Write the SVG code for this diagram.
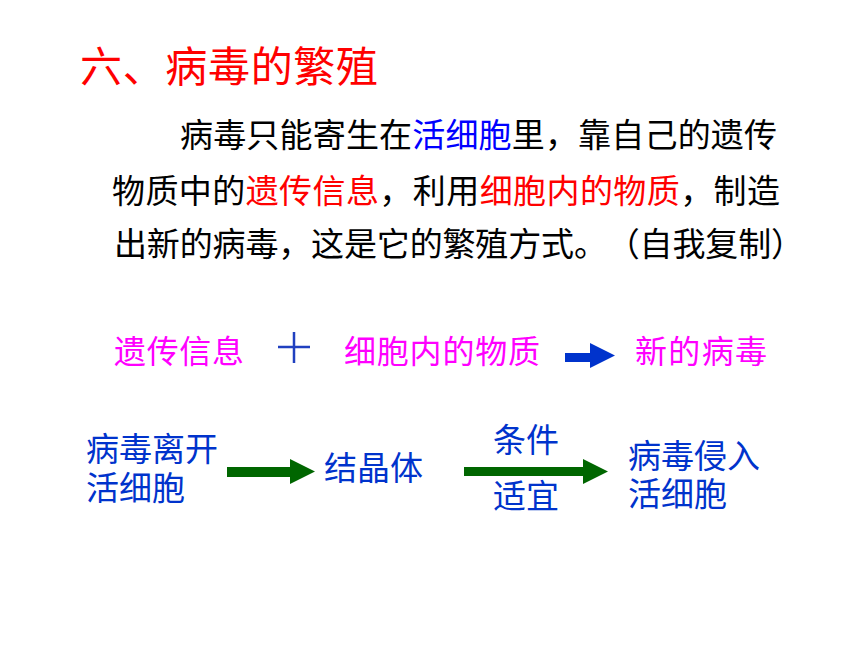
<svg xmlns="http://www.w3.org/2000/svg" width="860" height="645" viewBox="0 0 860 645">
  <style>
    text { font-family: "Noto Sans CJK SC", "Noto Sans", sans-serif; text-spacing-trim: space-all; }
    .title { font-size: 42px; fill: #ff0000; }
    .body { font-size: 33px; fill: #000000; }
    .blue { fill: #0000ff; }
    .red { fill: #ff0000; }
    .pink { font-size: 32px; fill: #ff00ff; }
    .node { font-size: 33px; fill: #0033cc; }
    .green { fill: #006600; }
  </style>
  <rect width="860" height="645" fill="#ffffff"/>

  <g id="title">
    <text class="title" x="80" y="82" textLength="298" lengthAdjust="spacing">六、病毒的繁殖</text>
  </g>

  <g id="paragraph">
    <text class="body" x="180" y="147" textLength="597" lengthAdjust="spacing">病毒只能寄生在<tspan class="blue">活细胞</tspan>里，靠自己的遗传</text>
    <text class="body" x="112" y="203" textLength="668" lengthAdjust="spacing">物质中的<tspan class="red">遗传信息</tspan>，利用<tspan class="red">细胞内的物质</tspan>，制造</text>
    <text class="body" x="114" y="256" textLength="690" lengthAdjust="spacing">出新的病毒，这是它的繁殖方式。（自我复制）</text>
  </g>

  <g id="node-genetic-info">
    <text class="pink" x="114" y="363" textLength="130" lengthAdjust="spacing">遗传信息</text>
  </g>
  <g id="node-plus">
    <path d="M278 347 H310 M294 332 V363" stroke="#2040c0" stroke-width="2.5" fill="none"/>
  </g>
  <g id="node-cell-material">
    <text class="pink" x="344" y="363" textLength="196" lengthAdjust="spacing">细胞内的物质</text>
  </g>
  <g id="node-new-virus">
    <text class="pink" x="635" y="363" textLength="132" lengthAdjust="spacing">新的病毒</text>
  </g>

  <g id="node-leave-cell">
    <text class="node"><tspan x="86" y="461">病毒离开</tspan><tspan x="86" y="500">活细胞</tspan></text>
  </g>
  <g id="node-crystal">
    <text class="node" x="324" y="480" textLength="99" lengthAdjust="spacing">结晶体</text>
  </g>
  <g id="node-condition">
    <text class="node" x="493" y="452" textLength="66" lengthAdjust="spacing">条件</text>
    <text class="node" x="493" y="508" textLength="66" lengthAdjust="spacing">适宜</text>
  </g>
  <g id="node-invade-cell">
    <text class="node"><tspan x="628" y="468">病毒侵入</tspan><tspan x="628" y="506">活细胞</tspan></text>
  </g>

  <g id="connectors">
    <polygon points="565,353 590,353 590,343 615,355.5 590,368 590,362 565,362" fill="#0033cc"/>
    <polygon class="green" points="227,467 290,467 290,459 315,471.5 290,484 290,477 227,477"/>
    <polygon class="green" points="464,467 583,467 583,459 608,471.5 583,484 583,476 464,476"/>
  </g>
</svg>
